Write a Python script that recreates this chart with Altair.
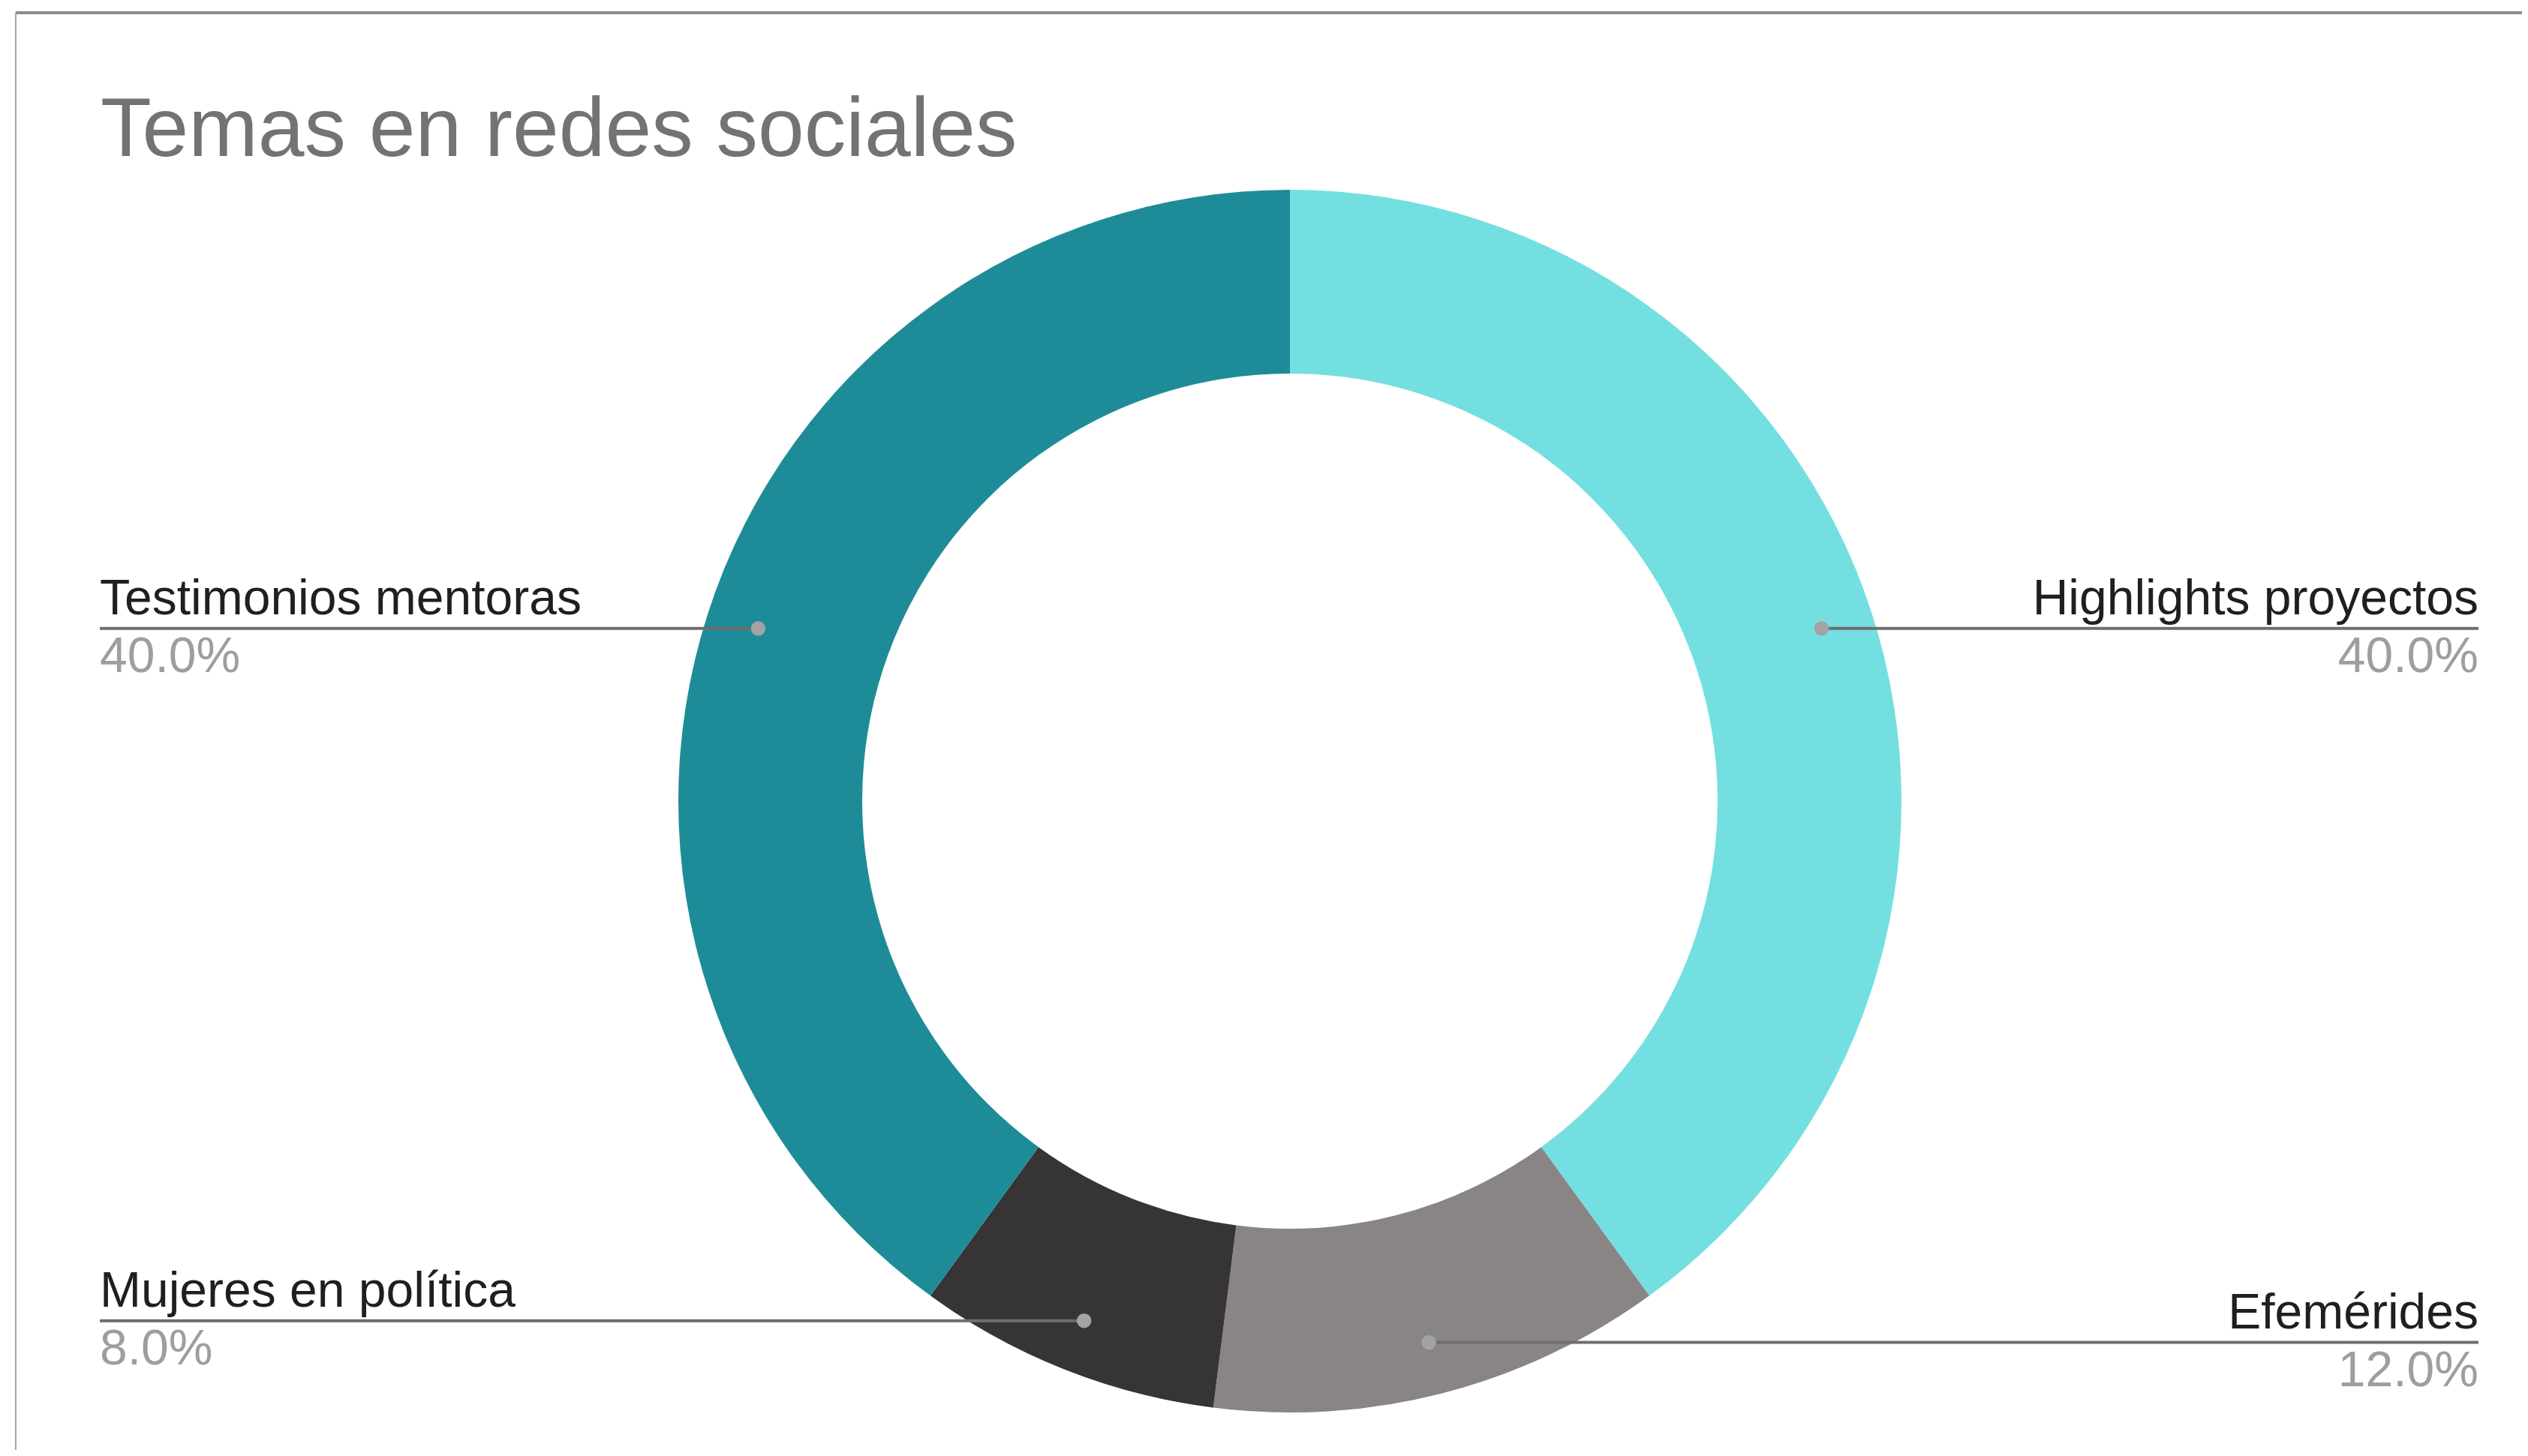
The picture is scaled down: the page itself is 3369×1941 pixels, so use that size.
import altair as alt
import pandas as pd

# ---- data ----
TITLE = "Temas en redes sociales"
categories = ["Highlights proyectos", "Efemérides", "Mujeres en política", "Testimonios mentoras"]
values = [40, 12, 8, 40]
colors = ["#74DFE1", "#898584", "#363435", "#1E8C98"]

# ---- layout constants ----
FONT = "Liberation Sans"
W, H = 3353, 1925
CX, CY = 1711, 1060
R_OUT, R_IN = 815, 570
R_DOT = 745
XL, XR = 125, 3295

df = pd.DataFrame({"category": categories, "value": values, "idx": list(range(len(categories)))})
base = alt.Chart(df)

arcs = base.mark_arc(innerRadius=R_IN, outerRadius=R_OUT, x=CX, y=CY).encode(
    theta=alt.Theta("value:Q", stack=True),
    color=alt.Color("category:N", scale=alt.Scale(domain=categories, range=colors), legend=None),
    order=alt.Order("idx:Q"),
)

calc = (
    base.transform_joinaggregate(total="sum(value)")
    .transform_window(cum="sum(value)", sort=[alt.SortField("idx", order="ascending")], frame=[None, 0])
    .transform_calculate(
        mid="(datum.cum - datum.value / 2) / datum.total * 2 * PI",
    )
    .transform_calculate(
        px=f"{CX} + {R_DOT} * sin(datum.mid)",
        py=f"{CY} - {R_DOT} * cos(datum.mid)",
        ex=f"sin(datum.mid) > 0 ? {XR} : {XL}",
        pct="format(datum.value / datum.total, '.1%')",
    )
    .transform_calculate(ny="datum.py - 19", vy="datum.py + 58")
)

X = lambda f: alt.X(f, scale=None)
Y = lambda f: alt.Y(f, scale=None)

lines = calc.mark_rule(color="#6e6e6e", strokeWidth=4).encode(x=X("px:Q"), x2="ex:Q", y=Y("py:Q"))
dots = calc.mark_circle(size=380, color="#a3a3a3", opacity=1).encode(x=X("px:Q"), y=Y("py:Q"))

left = calc.transform_filter(f"datum.px < {CX}")
right = calc.transform_filter(f"datum.px >= {CX}")

name_kw = dict(baseline="alphabetic", font=FONT, fontSize=66, color="#1f1f1f")
pct_kw = dict(baseline="alphabetic", font=FONT, fontSize=66, color="#9e9e9e")

names_l = left.mark_text(align="left", **name_kw).encode(x=X("ex:Q"), y=Y("ny:Q"), text="category:N")
names_r = right.mark_text(align="right", **name_kw).encode(x=X("ex:Q"), y=Y("ny:Q"), text="category:N")
pcts_l = left.mark_text(align="left", **pct_kw).encode(x=X("ex:Q"), y=Y("vy:Q"), text="pct:N")
pcts_r = right.mark_text(align="right", **pct_kw).encode(x=X("ex:Q"), y=Y("vy:Q"), text="pct:N")

one = alt.Chart(pd.DataFrame({"t": [TITLE]}))
title = one.mark_text(align="left", baseline="alphabetic", font=FONT, fontSize=111, color="#737373").encode(
    x=alt.value(126), y=alt.value(200), text="t:N"
)
top_border = one.mark_rule(color="#8c8c8c", strokeWidth=4).encode(x=alt.value(13), x2=alt.value(W), y=alt.value(9))
left_border = one.mark_rule(color="#a6a6a6", strokeWidth=2).encode(x=alt.value(13), y=alt.value(9), y2=alt.value(H))

chart = (
    alt.layer(top_border, left_border, arcs, lines, dots, names_l, names_r, pcts_l, pcts_r, title)
    .properties(width=W, height=H, padding=0,
                autosize=alt.AutoSizeParams(type="fit", contains="padding"),
                background="white")
    .configure_view(strokeWidth=0)
)

chart.save("out.html", embed_options={"renderer": "svg", "actions": False})
